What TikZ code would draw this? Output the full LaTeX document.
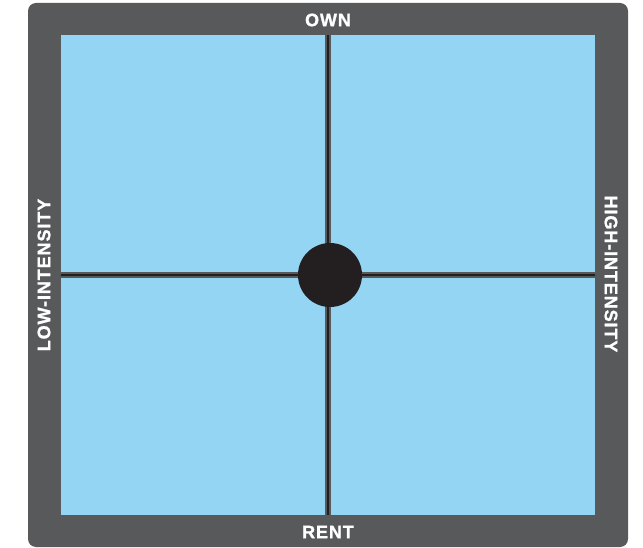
\documentclass[tikz,border=0pt]{standalone}
\usepackage{fontspec}
\newfontfamily\axisfont{Liberation Sans}[LetterSpace=5,BoldFeatures={FakeBold=1.2}]
\definecolor{framegray}{RGB}{88,89,91}
\definecolor{skyblue}{RGB}{147,213,243}
\definecolor{inkdark}{RGB}{35,31,32}
\usetikzlibrary{positioning}

\begin{document}
\begin{tikzpicture}[x=1pt,y=-1pt,
  frame/.style={fill=framegray,rounded corners=8pt},
  field/.style={fill=skyblue,draw=none,inner sep=0pt,
                minimum width=534pt,minimum height=480pt},
  axis/.style={font=\axisfont\bfseries\fontsize{18}{18}\selectfont,text=white,inner sep=0pt},
  divider/.style={draw=framegray,line width=5.5pt},
  core/.style={draw=inkdark,line width=2.4pt},
  hub/.style={circle,fill=inkdark,minimum size=64pt,inner sep=0pt}
]
  \useasboundingbox (0,0) rectangle (643,548);
  % Frame
  \fill[frame] (28,3) rectangle (628,547);
  \node[field] (sq) at (328,275) {};
  % Cross
  \draw[divider] (sq.north) -- (sq.south);
  \draw[divider] (sq.west) -- (sq.east);
  \draw[core] (sq.north) -- (sq.south);
  \draw[core] (sq.west) -- (sq.east);
  \node[hub] (mid) at (330,275) {};
  % Axis labels
  \node[axis] (own)  at (328,20)  {OWN};
  \node[axis] (rent) at (328,532) {RENT};
  \node[axis,rotate=90]  (low)  at (44,275)  {LOW-INTENSITY};
  \node[axis,rotate=-90] (high) at (611,274) {HIGH-INTENSITY};
\end{tikzpicture}
\end{document}
